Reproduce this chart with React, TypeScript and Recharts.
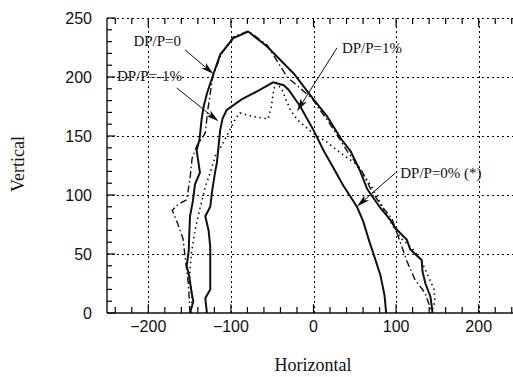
import React from "react";
import { LineChart, Line, XAxis, YAxis, ReferenceLine, ReferenceDot } from "recharts";

type Pt = { x: number; y: number };

// DP/P=0 (outer solid curve)
const dpp0: Pt[] = [
  { x: -149.5, y: 0 }, { x: -145.5, y: 10 }, { x: -147.5, y: 17 }, { x: -150.5, y: 31 },
  { x: -153.5, y: 40 }, { x: -151, y: 53 }, { x: -150.5, y: 65 }, { x: -149.5, y: 82 },
  { x: -146, y: 95 }, { x: -143.5, y: 109 }, { x: -137.5, y: 119 }, { x: -141.5, y: 138 },
  { x: -138, y: 147 }, { x: -135.5, y: 164 }, { x: -133, y: 175 }, { x: -129, y: 186 },
  { x: -121, y: 203 }, { x: -113, y: 219 }, { x: -97, y: 233 }, { x: -79, y: 238.5 },
  { x: -56.5, y: 226 }, { x: -24, y: 203 }, { x: 0, y: 181 }, { x: 16, y: 167 },
  { x: 34, y: 147 }, { x: 45, y: 137 }, { x: 56, y: 121 }, { x: 65, y: 105 },
  { x: 77, y: 93 }, { x: 81, y: 89 }, { x: 93, y: 79 }, { x: 99, y: 72 },
  { x: 113, y: 62 }, { x: 117, y: 54 }, { x: 123, y: 50 }, { x: 131, y: 45 },
  { x: 132, y: 35 }, { x: 135.5, y: 25 }, { x: 141.5, y: 14 }, { x: 143.5, y: 4 },
  { x: 144, y: 0 },
];

// DP/P=0% (*) (inner solid curve)
const dppStar: Pt[] = [
  { x: -129, y: 0 }, { x: -131, y: 12.5 }, { x: -125, y: 20 }, { x: -125, y: 40 },
  { x: -125, y: 56 }, { x: -127, y: 70 }, { x: -131, y: 82 }, { x: -125, y: 90 },
  { x: -123, y: 102 }, { x: -119, y: 120 }, { x: -117, y: 127 }, { x: -115, y: 141 },
  { x: -113, y: 155 }, { x: -110, y: 165 }, { x: -105, y: 172 }, { x: -87, y: 181 },
  { x: -65, y: 189 }, { x: -49, y: 195.5 }, { x: -36, y: 193 }, { x: -30, y: 189 },
  { x: -16, y: 175 }, { x: 0, y: 155 }, { x: 12, y: 138 }, { x: 24, y: 123 },
  { x: 36, y: 108 }, { x: 52.6, y: 90 }, { x: 60, y: 78 }, { x: 67, y: 62 },
  { x: 75, y: 45 }, { x: 81, y: 32 }, { x: 86, y: 15 }, { x: 88, y: 0 },
];

// DP/P=1% (dotted curve)
const dppPlus1: Pt[] = [
  { x: -148, y: 0 }, { x: -147, y: 15 }, { x: -150, y: 31 }, { x: -148, y: 50 },
  { x: -143.5, y: 70 }, { x: -137, y: 90 }, { x: -131, y: 107 }, { x: -125, y: 119 },
  { x: -119, y: 133 }, { x: -111, y: 142 }, { x: -105, y: 150 }, { x: -95, y: 164 },
  { x: -89, y: 169.5 }, { x: -73, y: 166.5 }, { x: -55, y: 164.5 }, { x: -51, y: 175 },
  { x: -48, y: 190 }, { x: -45, y: 195 }, { x: -38, y: 189 }, { x: -28, y: 172 },
  { x: -20, y: 164 }, { x: 0, y: 152 }, { x: 16, y: 145 }, { x: 32, y: 136 },
  { x: 50, y: 127 }, { x: 60, y: 118 }, { x: 72, y: 105 }, { x: 85, y: 88 },
  { x: 95, y: 75 }, { x: 105, y: 64 }, { x: 119, y: 55 }, { x: 130, y: 45 },
  { x: 139, y: 31 }, { x: 146, y: 20 }, { x: 147, y: 10 }, { x: 144, y: 3 },
  { x: 143, y: 0 },
];

// DP/P=-1% (dash-dot curve)
const dppMinus1: Pt[] = [
  { x: -149.5, y: 0 }, { x: -151.5, y: 25 }, { x: -155, y: 45 }, { x: -158, y: 63 },
  { x: -164, y: 75 }, { x: -171, y: 87 }, { x: -164, y: 92 }, { x: -153.5, y: 96 },
  { x: -149.5, y: 114 }, { x: -147, y: 131 }, { x: -141, y: 142 }, { x: -131, y: 152.5 },
  { x: -128, y: 172 }, { x: -122, y: 200 }, { x: -112, y: 219 }, { x: -97, y: 234 },
  { x: -79, y: 239 }, { x: -56, y: 227 }, { x: -32, y: 200 }, { x: -2, y: 182 },
  { x: 22, y: 158 }, { x: 41, y: 137 }, { x: 58, y: 121 }, { x: 70, y: 104 },
  { x: 82, y: 91 }, { x: 95, y: 80 }, { x: 103, y: 64 }, { x: 113, y: 44 },
  { x: 123, y: 28 }, { x: 135, y: 17 }, { x: 141, y: 5 }, { x: 142, y: 0 },
];

const xTicks = [
  -240, -220, -200, -180, -160, -140, -120, -100, -80, -60, -40, -20, 0,
  20, 40, 60, 80, 100, 120, 140, 160, 180, 200, 220, 240,
];
const yTicks = [
  0, 10, 20, 30, 40, 50, 60, 70, 80, 90, 100, 110, 120, 130, 140, 150,
  160, 170, 180, 190, 200, 210, 220, 230, 240, 250,
];
const gridX = [-200, -100, 0, 100, 200];
const gridY = [50, 100, 150, 200, 250];

const notes = [
  { text: "DP/P=0", tx: -218, ty: 226, from: { x: -155.5, y: 223 }, to: { x: -121, y: 202.5 } },
  { text: "DP/P=-1%", tx: -238, ty: 196.5, from: { x: -165.6, y: 190.7 }, to: { x: -115, y: 162.4 } },
  { text: "DP/P=1%", tx: 34.4, ty: 220.6, from: { x: 28.4, y: 224.6 }, to: { x: -20, y: 171 } },
  { text: "DP/P=0% (*)", tx: 105, ty: 114.7, from: { x: 99, y: 118.6 }, to: { x: 52.6, y: 90.3 } },
];

const INK = "#111";
const SERIF = '"Liberation Serif", "DejaVu Serif", serif';
const SANS = '"Liberation Sans", Arial, sans-serif';
const PLOT_LEFT = 107;
const PLOT_TOP = 18;
const PLOT_BOTTOM = 313;

const fmt = (v: number) => (v < 0 ? "\u2212" + Math.abs(v) : String(v));

// tick marks as short segments in data units (inward)
const X_MAJOR = 7.5;
const X_MINOR = 5;
const Y_MAJOR = 10;
const Y_MINOR = 6;

const XTick = (props: any) => {
  const { x, payload } = props;
  const v = payload.value;
  if (v % 100 !== 0) return <g />;
  return (
    <text x={x} y={PLOT_BOTTOM + 19} textAnchor="middle" fontFamily={SANS} fontSize={16} fill={INK}>
      {fmt(v)}
    </text>
  );
};

const YTick = (props: any) => {
  const { y, payload } = props;
  const v = payload.value;
  if (v % 50 !== 0) return <g />;
  return (
    <text x={PLOT_LEFT - 15} y={y + 6} textAnchor="end" fontFamily={SANS} fontSize={16} fill={INK}>
      {v}
    </text>
  );
};

const XTitle = () => (
  <text x={313} y={371} textAnchor="middle" fontFamily={SERIF} fontSize={18} fill={INK}>
    Horizontal
  </text>
);

const YTitle = () => (
  <text x={24} y={164} textAnchor="middle" fontFamily={SERIF} fontSize={18} fill={INK} transform="rotate(-90 24 164)">
    Vertical
  </text>
);

const GridSeg = (p: any) => {
  const vertical = Math.abs(p.x1 - p.x2) < 1;
  const d = vertical
    ? `M${Math.round(p.x1) + 0.5},${p.y1} V${p.y2}`
    : `M${p.x1},${Math.round(p.y1) + 0.5} H${p.x2}`;
  return <path d={d} stroke="#000" strokeWidth={1} strokeDasharray="2 3" fill="none" />;
};

const TickSeg = (p: any) => (
  <path d={`M${p.x1},${p.y1} L${p.x2},${p.y2}`} stroke="#000" strokeWidth={1.2} fill="none" />
);

const Arrow = (p: any) => {
  const { x1, y1, x2, y2 } = p;
  const dx = x2 - x1;
  const dy = y2 - y1;
  const L = Math.hypot(dx, dy) || 1;
  const ux = dx / L;
  const uy = dy / L;
  const hl = 13;
  const hw = 3.5;
  const bx = x2 - ux * hl;
  const by = y2 - uy * hl;
  const nx = -uy;
  const ny = ux;
  const pts = [
    `${x2},${y2}`,
    `${bx + nx * hw},${by + ny * hw}`,
    `${x2 - ux * hl * 0.75},${y2 - uy * hl * 0.75}`,
    `${bx - nx * hw},${by - ny * hw}`,
  ].join(" ");
  return (
    <g>
      <line x1={x1} y1={y1} x2={x2 - ux * 6} y2={y2 - uy * 6} stroke={INK} strokeWidth={1} />
      <polygon points={pts} fill={INK} />
    </g>
  );
};

const NoteText = (text: string) => (p: any) => (
  <text x={p.cx} y={p.cy} fontFamily={SERIF} fontSize={15} fill={INK}>
    {text}
  </text>
);

export default function App() {
  return (
    <div style={{ position: "absolute", left: 0, top: 0, width: 513, height: 377, overflow: "hidden", background: "#fff" }}>
      <LineChart width={530} height={377} margin={{ top: PLOT_TOP, right: 10, bottom: 4, left: 0 }}>
        <XAxis
          type="number"
          dataKey="x"
          domain={[-250, 250]}
          ticks={xTicks}
          interval={0}
          allowDataOverflow
          height={60}
          tickLine={false}
          tickSize={0}
          tick={<XTick />}
          axisLine={{ stroke: INK, strokeWidth: 1.4 }}
          label={{ content: XTitle }}
        />
        <YAxis
          type="number"
          dataKey="y"
          domain={[0, 250]}
          ticks={yTicks}
          interval={0}
          allowDataOverflow
          width={PLOT_LEFT}
          tickLine={false}
          tickSize={0}
          tick={<YTick />}
          axisLine={{ stroke: INK, strokeWidth: 1.4 }}
          label={{ content: YTitle }}
        />
        {gridX.map((v) => (
          <ReferenceLine key={"gx" + v} segment={[{ x: v, y: 0 }, { x: v, y: 250 }]} shape={GridSeg} />
        ))}
        {gridY.map((v) => (
          <ReferenceLine key={"gy" + v} segment={[{ x: -250, y: v }, { x: 250, y: v }]} shape={GridSeg} />
        ))}
        {xTicks.map((v) => {
          const len = v % 100 === 0 ? X_MAJOR : X_MINOR;
          return (
            <ReferenceLine key={"tb" + v} segment={[{ x: v, y: 0 }, { x: v, y: len }]} shape={TickSeg} />
          );
        })}
        {xTicks.map((v) => {
          const len = v % 100 === 0 ? X_MAJOR : X_MINOR;
          return (
            <ReferenceLine key={"tt" + v} segment={[{ x: v, y: 250 }, { x: v, y: 250 - len }]} shape={TickSeg} />
          );
        })}
        {yTicks.map((v) => {
          const len = v % 50 === 0 ? Y_MAJOR : Y_MINOR;
          return (
            <ReferenceLine key={"tl" + v} segment={[{ x: -250, y: v }, { x: -250 + len, y: v }]} shape={TickSeg} />
          );
        })}
        <Line data={dppPlus1} dataKey="y" name="DP/P=1%" type="linear" stroke={INK} strokeWidth={1.6}
          strokeDasharray="1.5 3.5" dot={false} activeDot={false} isAnimationActive={false} />
        <Line data={dppMinus1} dataKey="y" name="DP/P=-1%" type="linear" stroke={INK} strokeWidth={1.4}
          strokeDasharray="7 3 1.5 3" dot={false} activeDot={false} isAnimationActive={false} />
        <Line data={dppStar} dataKey="y" name="DP/P=0% (*)" type="linear" stroke={INK} strokeWidth={2}
          dot={false} activeDot={false} isAnimationActive={false} />
        <Line data={dpp0} dataKey="y" name="DP/P=0" type="linear" stroke={INK} strokeWidth={2}
          dot={false} activeDot={false} isAnimationActive={false} />
        {notes.map((n) => (
          <ReferenceLine key={"a" + n.text} segment={[n.from, n.to]} shape={Arrow} />
        ))}
        {notes.map((n) => (
          <ReferenceDot key={"t" + n.text} x={n.tx} y={n.ty} r={1} shape={NoteText(n.text)} />
        ))}
      </LineChart>
    </div>
  );
}
